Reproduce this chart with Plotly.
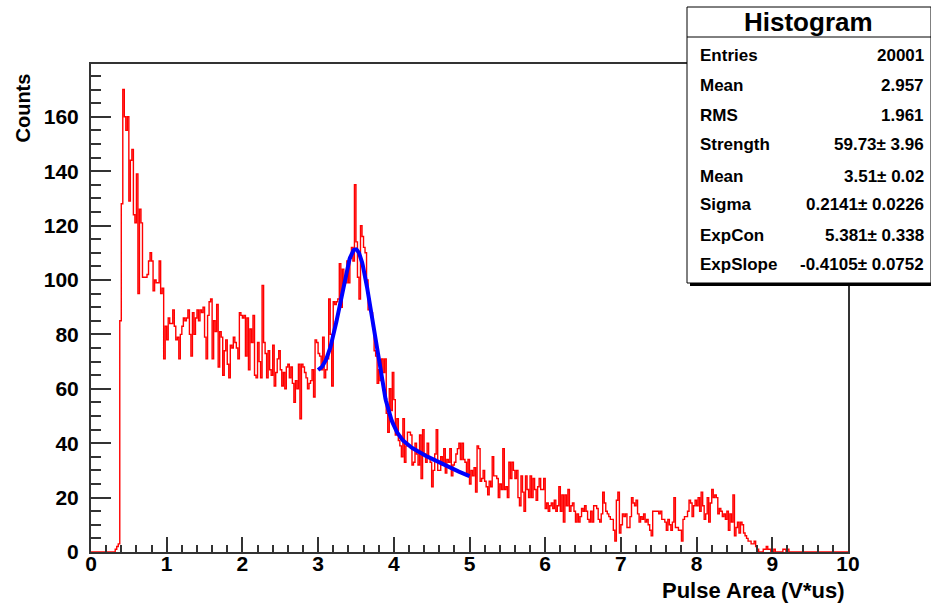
import numpy as np
import plotly.graph_objects as go

# ---- histogram contents: 500 bins of width 0.02 over [0, 10) ----
bin_width = 0.02
counts_0_1 = [0] * 16 + [1, 2, 3, 85, 128, 170, 160, 155, 160, 129, 144, 148, 124, 121,
              139, 95, 126, 121, 101, 101, 101, 102, 107, 110, 107, 96, 100, 99, 99,
              107, 95, 97, 71, 83]
counts_1_2 = [78, 86, 84, 84, 89, 83, 78, 79, 71, 80, 83, 86, 85, 86, 89, 80, 72, 88,
              80, 86, 89, 85, 89, 88, 90, 79, 71, 87, 92, 93, 71, 85, 81, 91, 68, 81,
              79, 65, 74, 78, 69, 64, 76, 75, 79, 77, 75, 71, 88, 87]
counts_2_3 = [86, 87, 72, 86, 67, 82, 77, 87, 65, 64, 77, 70, 64, 98, 77, 73, 64, 74,
              67, 65, 76, 61, 66, 71, 74, 67, 61, 66, 60, 68, 69, 64, 68, 62, 55, 63,
              60, 69, 49, 69, 68, 66, 64, 60, 62, 63, 67, 57, 78, 77]
counts_3_4 = [73, 72, 67, 79, 64, 67, 71, 93, 80, 61, 92, 91, 92, 93, 106, 90, 104,
              100, 99, 107, 99, 108, 112, 107, 135, 114, 101, 93, 120, 116, 112, 110,
              100, 89, 90, 88, 83, 74, 72, 62, 67, 63, 71, 66, 71, 51, 44, 60, 52, 66]
counts_4_5 = [56, 43, 49, 41, 39, 35, 49, 33, 39, 44, 44, 43, 32, 33, 40, 36, 32, 43,
              27, 45, 36, 33, 40, 35, 33, 24, 30, 36, 45, 30, 30, 35, 32, 38, 29, 34,
              33, 38, 28, 32, 33, 36, 38, 40, 34, 40, 34, 33, 28, 34]
counts_5_6 = [25, 30, 28, 31, 22, 39, 38, 26, 27, 30, 26, 24, 21, 26, 24, 35, 28, 28,
              27, 20, 25, 23, 38, 23, 24, 20, 33, 27, 33, 30, 27, 30, 20, 17, 28, 22,
              15, 28, 23, 20, 28, 20, 27, 23, 19, 24, 27, 23, 23, 27]
counts_6_7 = [16, 18, 15, 17, 18, 16, 19, 15, 17, 24, 15, 21, 11, 21, 17, 23, 15, 17,
              18, 15, 11, 14, 11, 13, 16, 15, 17, 15, 12, 11, 15, 11, 17, 17, 16, 12,
              11, 14, 22, 18, 15, 14, 13, 12, 12, 8, 4, 19, 22, 7]
counts_7_8 = [10, 14, 13, 14, 9, 9, 13, 20, 18, 17, 19, 14, 11, 13, 12, 14, 11, 12, 10,
              8, 6, 15, 15, 15, 15, 14, 15, 12, 12, 11, 8, 12, 10, 8, 11, 20, 9, 9, 8,
              8, 4, 12, 13, 13, 15, 19, 18, 13, 17, 19]
counts_8_9 = [17, 20, 15, 22, 17, 12, 14, 20, 11, 18, 23, 20, 21, 20, 14, 16, 15, 13,
              14, 12, 15, 8, 14, 11, 21, 6, 9, 11, 7, 11, 10, 7, 6, 5, 4, 4, 3, 3, 4,
              2, 1, 0, 0, 0, 1, 1, 2, 1, 1, 0]
counts_9_10 = [0, 1, 0, 0, 0, 0, 0, 1, 1, 0, 1] + [0] * 39

counts = np.array(counts_0_1 + counts_1_2 + counts_2_3 + counts_3_4 + counts_4_5 +
                  counts_5_6 + counts_6_7 + counts_7_8 + counts_8_9 + counts_9_10, float)
edges = np.arange(len(counts) + 1) * bin_width

# ---- fit result (gaussian + exponential) ----
fit_range = (3.0, 5.0)
strength, mean, sigma = 59.73, 3.51, 0.2141
exp_con, exp_slope = 5.381, -0.4105

# ---- statistics box text ----
stats_title = "Histogram"
stats_rows = [
    ("Entries", "20001"),
    ("Mean", "2.957"),
    ("RMS", "1.961"),
    ("Strength", "59.73\u00b1 3.96"),
    ("Mean", "3.51\u00b1 0.02"),
    ("Sigma", "0.2141\u00b1 0.0226"),
    ("ExpCon", "5.381\u00b1 0.338"),
    ("ExpSlope", "-0.4105\u00b1 0.0752"),
]

W, H = 931, 604
L, R, T, B = 91, 83, 64, 52
pw, ph = W - L - R, H - T - B


def px(x):
    return (x - L) / pw


def py(y):
    return (H - B - y) / ph


fig = go.Figure()

# histogram outline as a step line
step_x = np.append(edges[:-1], edges[-1])
step_y = np.append(counts, counts[-1])
fig.add_trace(go.Scatter(x=step_x, y=step_y, mode="lines", line_shape="hv",
                         line=dict(color="#ff0000", width=1.4), hoverinfo="skip",
                         showlegend=False))

# fitted function
xf = np.linspace(fit_range[0], fit_range[1], 300)
yf = strength * np.exp(-0.5 * ((xf - mean) / sigma) ** 2) + np.exp(exp_con + exp_slope * xf)
fig.add_trace(go.Scatter(x=xf, y=yf, mode="lines", line=dict(color="#0000ff", width=4),
                         hoverinfo="skip", showlegend=False))

tickfont = dict(family="Liberation Sans", size=21, color="black", weight="bold")
axis_common = dict(showline=True, linecolor="#333", linewidth=2, mirror=True,
                   showgrid=False, zeroline=False, ticks="inside", tickcolor="#333",
                   tickwidth=1.5, tickfont=tickfont)

fig.update_xaxes(range=[0, 10], tick0=0, dtick=1, ticklen=15,
                 minor=dict(dtick=0.2, ticks="inside", ticklen=7, tickcolor="#333",
                            tickwidth=1.5, showgrid=False),
                 ticklabelstandoff=-8, **axis_common)
fig.update_yaxes(range=[0, 179.4], tick0=0, dtick=20, ticklen=20,
                 minor=dict(dtick=5, ticks="inside", ticklen=10, tickcolor="#333",
                            tickwidth=1.5, showgrid=False),
                 ticklabelstandoff=6, **axis_common)

annotations = [
    dict(text="Pulse Area (V*us)", xref="paper", yref="paper", x=px(847), y=py(590),
         xanchor="right", yanchor="middle", showarrow=False,
         font=dict(family="Liberation Sans", size=22, color="black", weight="bold")),
    dict(text="Counts", xref="paper", yref="paper", x=px(22), y=py(72),
         xanchor="center", yanchor="top", textangle=-90, showarrow=False,
         font=dict(family="Liberation Sans", size=20, color="black", weight="bold")),
]

# statistics box
box_l, box_r, box_t, box_b = 687, 931, 7, 283
shapes = [
    dict(type="rect", xref="paper", yref="paper", x0=px(box_l + 3), x1=px(box_r + 3),
         y0=py(box_b + 3), y1=py(box_t + 3), fillcolor="black", line=dict(width=0)),
    dict(type="rect", xref="paper", yref="paper", x0=px(box_l), x1=px(box_r),
         y0=py(box_b), y1=py(box_t), fillcolor="white", line=dict(color="black", width=1)),
    dict(type="line", xref="paper", yref="paper", x0=px(box_l), x1=px(box_r),
         y0=py(37), y1=py(37), line=dict(color="black", width=1)),
]
annotations.append(dict(text=stats_title, xref="paper", yref="paper", x=px(808), y=py(22),
                        xanchor="center", yanchor="middle", showarrow=False,
                        font=dict(family="Liberation Sans", size=26, color="black",
                                  weight="bold")))
row_y = [55, 85, 115, 144, 176, 205, 236, 264]
for (lab, val), yy in zip(stats_rows, row_y):
    annotations.append(dict(text=lab, xref="paper", yref="paper", x=px(698), y=py(yy),
                            xanchor="left", yanchor="middle", showarrow=False,
                            font=dict(family="Liberation Sans", size=17, color="black",
                                      weight="bold")))
    annotations.append(dict(text=val, xref="paper", yref="paper", x=px(926), y=py(yy),
                            xanchor="right", yanchor="middle", showarrow=False,
                            font=dict(family="Liberation Sans", size=17, color="black",
                                      weight="bold")))

fig.update_layout(width=W, height=H, margin=dict(l=L, r=R, t=T, b=B),
                  paper_bgcolor="white", plot_bgcolor="white",
                  shapes=shapes, annotations=annotations, showlegend=False)

fig.write_html("out.html")
